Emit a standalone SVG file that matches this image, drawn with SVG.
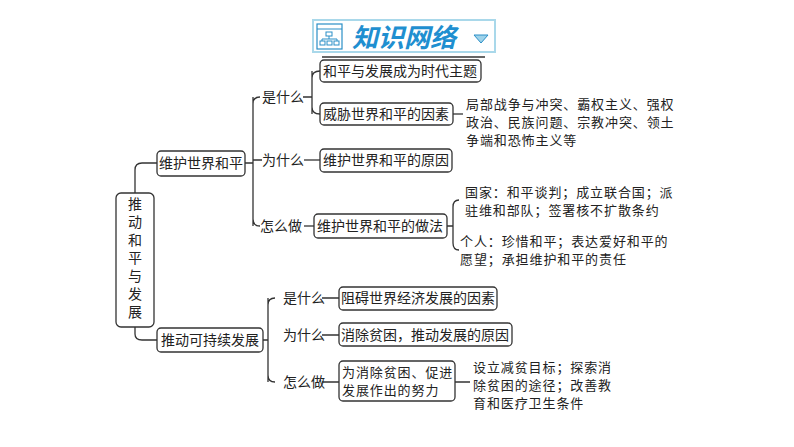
<svg xmlns="http://www.w3.org/2000/svg" width="794" height="447" viewBox="0 0 794 447">
<style>
.n{fill:#fff;stroke:#333;stroke-width:1.3}
.t{font-family:"Noto Sans CJK SC","Noto Sans",sans-serif;font-size:14px;fill:#222}
.p{font-family:"Noto Sans CJK SC","Noto Sans",sans-serif;font-size:13px;letter-spacing:0.9px;fill:#222}
.c{fill:none;stroke:#333;stroke-width:1.3}
</style>
<rect width="794" height="447" fill="#fff"/>
<g id="title">
<rect x="313" y="20" width="182" height="32" fill="#fff" stroke="#a9d8ea" stroke-width="2"/>
<rect x="317" y="24" width="25" height="25" fill="#fff" stroke="#2a8fc7" stroke-width="1.2"/>
<line x1="317" y1="29" x2="342" y2="29" stroke="#2a8fc7"/>
<rect x="326" y="32" width="6" height="4" fill="none" stroke="#2a8fc7"/>
<rect x="320" y="41" width="5" height="4" fill="none" stroke="#2a8fc7"/>
<rect x="327" y="41" width="5" height="4" fill="none" stroke="#2a8fc7"/>
<rect x="334" y="41" width="5" height="4" fill="none" stroke="#2a8fc7"/>
<path d="M329 36V39M322 41V39H337V41" fill="none" stroke="#2a8fc7"/>
<text x="404" y="47" text-anchor="middle" font-family="'Noto Sans CJK SC',sans-serif" font-size="26" font-weight="bold" font-style="italic" fill="#1f8fd0">知识网络</text>
<path d="M474 35L488 35L481 43Z" fill="#9fd3ea" stroke="#2a8fc7"/>
<line x1="322" y1="57" x2="485" y2="57" stroke="#333" stroke-width="1.5"/>
</g>
<g id="connectors" class="c">
<path d="M135 193V170Q135 163 142 163H157"/>
<path d="M135 327V334Q135 340 142 340H157"/>
<path d="M245 163H253M253 97V226M253 104Q253 97 260 97M253 219Q253 226 260 226M253 160H262"/>
<path d="M303 97H312M312 71V114M312 78Q312 71 320 71M312 107Q312 114 320 114"/>
<path d="M304 160H320"/>
<path d="M304 226H314"/>
<path d="M453 114H463"/>
<path d="M447 226H453M459 200Q453 200 453 207V243Q453 250 459 250"/>
<path d="M263 340H268M268 298V382M268 305Q268 298 275 298M268 375Q268 382 275 382"/>
<path d="M322 298H339M322 335H339M322 382H339M455 382H470"/>
</g>
<g id="root"><rect class="n" x="116" y="193" width="38" height="134" rx="5"/>
<text class="t" x="135" y="260" text-anchor="middle" style="writing-mode:vertical-rl;text-orientation:upright;letter-spacing:4px">推动和平与发展</text></g>
<g id="n1"><rect class="n" x="157" y="151" width="88" height="25" rx="4"/><text class="t" x="201" y="168" text-anchor="middle">维护世界和平</text></g>
<g id="n2"><rect class="n" x="157" y="328" width="106" height="24" rx="4"/><text class="t" x="210" y="345" text-anchor="middle">推动可持续发展</text></g>
<g id="l1"><text class="t" x="262" y="102">是什么</text><text class="t" x="262" y="165">为什么</text><text class="t" x="260" y="231">怎么做</text></g>
<g id="b1"><rect class="n" x="320" y="60" width="161" height="22" rx="4"/><text class="t" x="400" y="76" text-anchor="middle">和平与发展成为时代主题</text></g>
<g id="b2"><rect class="n" x="320" y="103" width="133" height="22" rx="4"/><text class="t" x="386" y="119" text-anchor="middle">威胁世界和平的因素</text></g>
<g id="d1"><text class="p"><tspan x="466" y="109">局部战争与冲突、霸权主义、强权</tspan><tspan x="466" y="127">政治、民族问题、宗教冲突、领土</tspan><tspan x="466" y="145">争端和恐怖主义等</tspan></text></g>
<g id="b3"><rect class="n" x="320" y="149" width="132" height="23" rx="4"/><text class="t" x="386" y="165" text-anchor="middle">维护世界和平的原因</text></g>
<g id="b4"><rect class="n" x="314" y="214" width="133" height="24" rx="4"/><text class="t" x="380" y="231" text-anchor="middle">维护世界和平的做法</text></g>
<g id="d2"><text class="p"><tspan x="465" y="197">国家：和平谈判；成立联合国；派</tspan><tspan x="465" y="215">驻维和部队；签署核不扩散条约</tspan><tspan x="460" y="246">个人：珍惜和平；表达爱好和平的</tspan><tspan x="460" y="264">愿望；承担维护和平的责任</tspan></text></g>
<g id="l2"><text class="t" x="283" y="303">是什么</text><text class="t" x="283" y="340">为什么</text><text class="t" x="283" y="387">怎么做</text></g>
<g id="b5"><rect class="n" x="339" y="287" width="158" height="23" rx="4"/><text class="t" x="418" y="303" text-anchor="middle">阻碍世界经济发展的因素</text></g>
<g id="b6"><rect class="n" x="339" y="323" width="173" height="23" rx="4"/><text class="t" x="425" y="340" text-anchor="middle">消除贫困，推动发展的原因</text></g>
<g id="b7"><rect class="n" x="339" y="361" width="116" height="40" rx="4"/><text class="p"><tspan x="342" y="377">为消除贫困、促进</tspan><tspan x="342" y="395">发展作出的努力</tspan></text></g>
<g id="d3"><text class="p"><tspan x="473" y="372">设立减贫目标；探索消</tspan><tspan x="473" y="390">除贫困的途径；改善教</tspan><tspan x="473" y="408">育和医疗卫生条件</tspan></text></g>
</svg>
